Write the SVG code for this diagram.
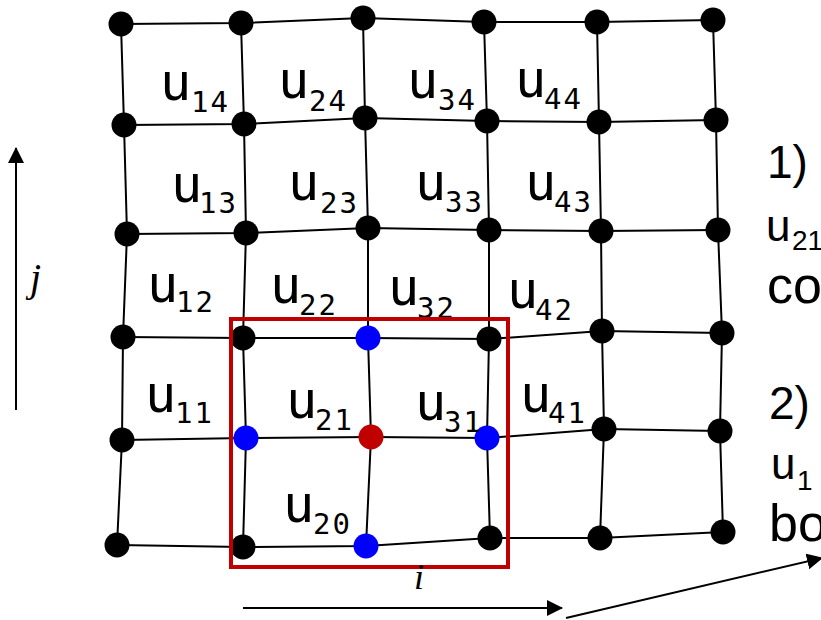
<svg xmlns="http://www.w3.org/2000/svg" width="821" height="620" viewBox="0 0 821 620">
<style>
.ln{stroke:#000;stroke-width:2;fill:none}
.nd{fill:#000}
.bl{fill:#0000FF}
.rd{fill:#C00000}
.u{font-family:"DejaVu Sans Mono",monospace;font-size:52px;fill:#000}
.s{font-family:"DejaVu Sans Mono",monospace;font-size:29px;fill:#000;letter-spacing:2px}
.t{font-family:"Liberation Sans",Arial,sans-serif;fill:#000}
.it{font-family:"Liberation Serif","Times New Roman",serif;font-style:italic;fill:#000}
.box{fill:none;stroke:#C00000;stroke-width:4}
</style>
<defs>
<marker id="ah" markerUnits="userSpaceOnUse" markerWidth="16" markerHeight="16" refX="15" refY="8" orient="auto">
<path d="M0,0 L16,8 L0,16 Z" fill="#000"/>
</marker>
</defs>
<rect width="821" height="620" fill="#fff"/>
<g id="connectors">
<polyline class="ln" points="121,24 241,23 363,18 484,22 597,22 713,20"/>
<polyline class="ln" points="124,125 244,124 365,118 487,121 599,122 716,120"/>
<polyline class="ln" points="127,234 246,233 368,228 489,230 601,231 718,230"/>
<polyline class="ln" points="123,337 243,338 368,338 489,339 602,331 722,333"/>
<polyline class="ln" points="122,440 246,438 371,437 487,438 604,429 720,431"/>
<polyline class="ln" points="117,545 243,547 366,546 490,538 600,538 723,532"/>
<polyline class="ln" points="121,24 124,125 127,234 123,337 122,440 117,545"/>
<polyline class="ln" points="241,23 244,124 246,233 243,338 246,438 243,547"/>
<polyline class="ln" points="363,18 365,118 368,228 368,338 371,437 366,546"/>
<polyline class="ln" points="484,22 487,121 489,230 489,339 487,438 490,538"/>
<polyline class="ln" points="597,22 599,122 601,231 602,331 604,429 600,538"/>
<polyline class="ln" points="713,20 716,120 718,230 722,333 720,431 723,532"/>
</g>
<g id="nodes">
<g id="n_0_5"><circle class="nd" cx="121" cy="24" r="12.5"/></g>
<g id="n_1_5"><circle class="nd" cx="241" cy="23" r="12.5"/></g>
<g id="n_2_5"><circle class="nd" cx="363" cy="18" r="12.5"/></g>
<g id="n_3_5"><circle class="nd" cx="484" cy="22" r="12.5"/></g>
<g id="n_4_5"><circle class="nd" cx="597" cy="22" r="12.5"/></g>
<g id="n_5_5"><circle class="nd" cx="713" cy="20" r="12.5"/></g>
<g id="n_0_4"><circle class="nd" cx="124" cy="125" r="12.5"/></g>
<g id="n_1_4"><circle class="nd" cx="244" cy="124" r="12.5"/></g>
<g id="n_2_4"><circle class="nd" cx="365" cy="118" r="12.5"/></g>
<g id="n_3_4"><circle class="nd" cx="487" cy="121" r="12.5"/></g>
<g id="n_4_4"><circle class="nd" cx="599" cy="122" r="12.5"/></g>
<g id="n_5_4"><circle class="nd" cx="716" cy="120" r="12.5"/></g>
<g id="n_0_3"><circle class="nd" cx="127" cy="234" r="12.5"/></g>
<g id="n_1_3"><circle class="nd" cx="246" cy="233" r="12.5"/></g>
<g id="n_2_3"><circle class="nd" cx="368" cy="228" r="12.5"/></g>
<g id="n_3_3"><circle class="nd" cx="489" cy="230" r="12.5"/></g>
<g id="n_4_3"><circle class="nd" cx="601" cy="231" r="12.5"/></g>
<g id="n_5_3"><circle class="nd" cx="718" cy="230" r="12.5"/></g>
<g id="n_0_2"><circle class="nd" cx="123" cy="337" r="12.5"/></g>
<g id="n_1_2"><circle class="nd" cx="243" cy="338" r="12.5"/></g>
<g id="n_2_2"><circle class="bl" cx="368" cy="338" r="12.5"/></g>
<g id="n_3_2"><circle class="nd" cx="489" cy="339" r="12.5"/></g>
<g id="n_4_2"><circle class="nd" cx="602" cy="331" r="12.5"/></g>
<g id="n_5_2"><circle class="nd" cx="722" cy="333" r="12.5"/></g>
<g id="n_0_1"><circle class="nd" cx="122" cy="440" r="12.5"/></g>
<g id="n_1_1"><circle class="bl" cx="246" cy="438" r="12.5"/></g>
<g id="n_2_1"><circle class="rd" cx="371" cy="437" r="12.5"/></g>
<g id="n_3_1"><circle class="bl" cx="487" cy="438" r="12.5"/></g>
<g id="n_4_1"><circle class="nd" cx="604" cy="429" r="12.5"/></g>
<g id="n_5_1"><circle class="nd" cx="720" cy="431" r="12.5"/></g>
<g id="n_0_0"><circle class="nd" cx="117" cy="545" r="12.5"/></g>
<g id="n_1_0"><circle class="nd" cx="243" cy="547" r="12.5"/></g>
<g id="n_2_0"><circle class="bl" cx="366" cy="546" r="12.5"/></g>
<g id="n_3_0"><circle class="nd" cx="490" cy="538" r="12.5"/></g>
<g id="n_4_0"><circle class="nd" cx="600" cy="538" r="12.5"/></g>
<g id="n_5_0"><circle class="nd" cx="723" cy="532" r="12.5"/></g>
</g>
<g id="labels">
<text class="u" x="160" y="100">u</text><text class="s" x="191" y="112">14</text>
<text class="u" x="278" y="98">u</text><text class="s" x="309" y="111">24</text>
<text class="u" x="407" y="98">u</text><text class="s" x="438" y="110">34</text>
<text class="u" x="515" y="97">u</text><text class="s" x="544" y="109">44</text>
<text class="u" x="171" y="202">u</text><text class="s" x="199" y="213">13</text>
<text class="u" x="288" y="200">u</text><text class="s" x="320" y="213">23</text>
<text class="u" x="415" y="200">u</text><text class="s" x="445" y="212">33</text>
<text class="u" x="525" y="200">u</text><text class="s" x="554" y="212">43</text>
<text class="u" x="147" y="302">u</text><text class="s" x="176" y="312">12</text>
<text class="u" x="270" y="303">u</text><text class="s" x="299" y="315">22</text>
<text class="u" x="388" y="305">u</text><text class="s" x="417" y="318">32</text>
<text class="u" x="507" y="308">u</text><text class="s" x="535" y="320">42</text>
<text class="u" x="145" y="412">u</text><text class="s" x="175" y="423">11</text>
<text class="u" x="286" y="418">u</text><text class="s" x="315" y="430">21</text>
<text class="u" x="415" y="420">u</text><text class="s" x="444" y="432">31</text>
<text class="u" x="520" y="412">u</text><text class="s" x="548" y="423">41</text>
<text class="u" x="283" y="522">u</text><text class="s" x="313" y="534">20</text>
</g>
<rect class="box" x="231" y="319" width="277" height="248"/>
<g id="axes">
<line class="ln" x1="16" y1="410" x2="16" y2="148" marker-end="url(#ah)"/>
<text class="it" x="30" y="291" font-size="40">j</text>
<line class="ln" x1="243" y1="608" x2="562" y2="608" marker-end="url(#ah)"/>
<text class="it" x="414" y="589" font-size="36">i</text>
<line class="ln" x1="566" y1="618" x2="822" y2="558" marker-end="url(#ah)"/>
</g>
<g id="notes">
<text class="t" x="767" y="178" font-size="46">1)</text>
<text class="t" x="766" y="241" font-size="44">u</text><text class="t" x="792" y="250" font-size="28">21</text>
<text class="t" x="767" y="303" font-size="52">co</text>
<text class="t" x="769" y="419" font-size="46">2)</text>
<text class="t" x="771" y="479" font-size="44">u</text><text class="t" x="797" y="490" font-size="28">1</text>
<text class="t" x="769" y="541" font-size="52">bo</text>
</g>
</svg>
